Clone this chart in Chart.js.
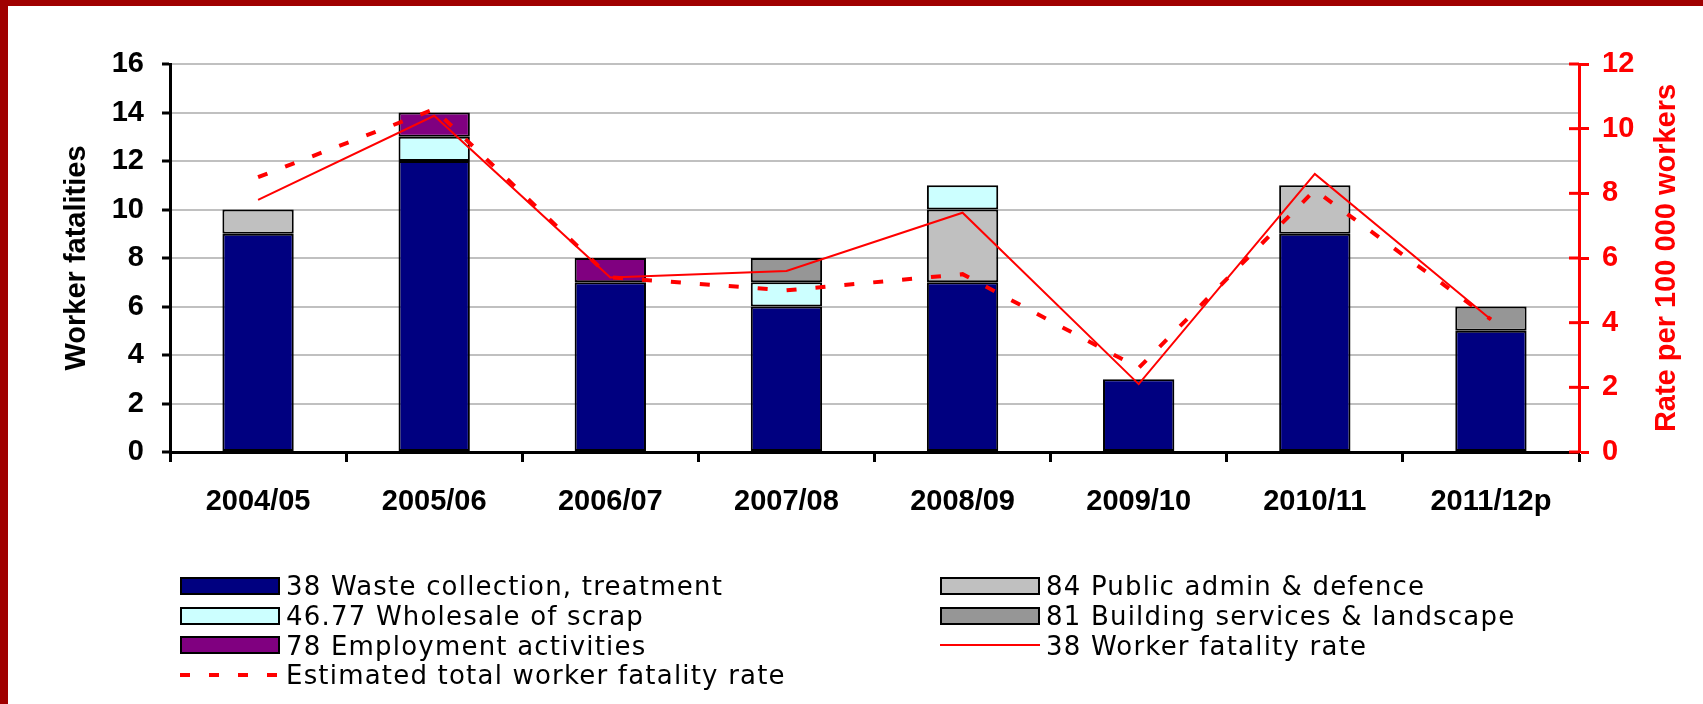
<!DOCTYPE html>
<html>
<head>
<meta charset="utf-8">
<script src="https://cdn.jsdelivr.net/npm/chart.js@4.4.0/dist/chart.umd.min.js"></script>
<style>
    html, body { margin: 0; padding: 0; background: #fff; }
    #wrap { position: relative; width: 1703px; height: 704px; overflow: hidden; background: #fff; }
    #chart { position: absolute; left: 0; top: 0; }
    #frame {
        position: absolute; left: 0; top: 0; width: 1703px; height: 704px;
        box-sizing: border-box; border-left: 8px solid #A00000; border-top: 6px solid #A00000;
        pointer-events: none;
    }
    #legend {
        position: absolute; left: 180px; top: 571px;
        display: grid; grid-template-columns: 760px auto;
        font-family: "DejaVu Sans", sans-serif; font-size: 26px; letter-spacing: 1.2px; color: #000;
    }
    .item { display: flex; align-items: center; height: 29.8px; white-space: nowrap; }
    .sw { width: 100px; height: 18px; box-sizing: border-box; border: 2px solid #000; margin-right: 6px; flex: none; }
    .ln { width: 100px; height: 2px; background: #FF0000; margin-right: 6px; flex: none; }
    .ln.dash { height: 4px; background: repeating-linear-gradient(90deg, #FF0000 0 10px, transparent 10px 29px); }
</style>
</head>
<body>
<div id="wrap">
    <canvas id="chart" width="1703" height="704"></canvas>
    <div id="legend"></div>
    <div id="frame"></div>
</div>
<script>
// Financial years
const categories = ['2004/05', '2005/06', '2006/07', '2007/08', '2008/09', '2009/10', '2010/11', '2011/12p'];

// Worker fatalities by industry (stacked bars, left axis)
const wasteCollection = [9, 12, 7, 6, 7, 3, 9, 5];
const publicAdmin = [1, 0, 0, 0, 3, 0, 2, 0];
const wholesaleScrap = [0, 1, 0, 1, 1, 0, 0, 0];
const buildingServices = [0, 0, 0, 1, 0, 0, 0, 1];
const employmentActivities = [0, 1, 1, 0, 0, 0, 0, 0];

// Rates per 100 000 workers (lines, right axis)
const workerRate = [7.8, 10.4, 5.4, 5.6, 7.4, 2.1, 8.6, 4.1];
const estimatedRate = [8.5, 10.6, 5.4, 5.0, 5.5, 2.6, 8.1, 4.1];

// Axis ranges and titles
const leftMax = 16, leftStep = 2;
const rightMax = 12, rightStep = 2;
const leftTitle = 'Worker fatalities';
const rightTitle = 'Rate per 100 000 workers';

const AXIS_FONT = { family: '"Liberation Sans", Arial, sans-serif', size: 29, weight: 'bold' };

// zero segments are simply not drawn
const noZero = arr => arr.map(v => (v === 0 ? null : v));

function barSet(label, data, color) {
    return {
        type: 'bar',
        label: label,
        data: noZero(data),
        backgroundColor: color,
        borderColor: '#000',
        borderWidth: 2,
        borderSkipped: false,
        stack: 'fatalities',
        yAxisID: 'y',
        categoryPercentage: 1,
        barPercentage: 0.405,
        order: 2
    };
}

// Right axis: ticks crossing the line, and a bottom-to-top title
const rightAxisExtras = {
    id: 'rightAxisExtras',
    afterDraw(chart) {
        const s = chart.scales.y1;
        const ctx = chart.ctx;
        ctx.save();
        ctx.strokeStyle = '#FF0000';
        ctx.lineWidth = 3;
        s.ticks.forEach(t => {
            const y = s.getPixelForValue(t.value);
            ctx.beginPath();
            ctx.moveTo(s.left - 10, y);
            ctx.lineTo(s.left, y);
            ctx.stroke();
        });
        ctx.translate(s.right - 36, (s.top + s.bottom) / 2);
        ctx.rotate(-Math.PI / 2);
        ctx.font = `bold ${AXIS_FONT.size}px ${AXIS_FONT.family}`;
        ctx.fillStyle = '#FF0000';
        ctx.textAlign = 'center';
        ctx.textBaseline = 'middle';
        ctx.fillText(rightTitle, 0, 0);
        ctx.restore();
    }
};

const chart = new Chart(document.getElementById('chart'), {
    type: 'bar',
    data: {
        labels: categories,
        datasets: [
            barSet('38 Waste collection, treatment', wasteCollection, '#000080'),
            barSet('84 Public admin & defence', publicAdmin, '#C0C0C0'),
            barSet('46.77 Wholesale of scrap', wholesaleScrap, '#CCFFFF'),
            barSet('81 Building services & landscape', buildingServices, '#969696'),
            barSet('78 Employment activities', employmentActivities, '#800080'),
            {
                type: 'line',
                label: '38 Worker fatality rate',
                data: workerRate,
                borderColor: '#FF0000',
                borderWidth: 2,
                pointRadius: 0,
                tension: 0,
                fill: false,
                yAxisID: 'y1',
                order: 1
            },
            {
                type: 'line',
                label: 'Estimated total worker fatality rate',
                data: estimatedRate,
                borderColor: '#FF0000',
                borderWidth: 4,
                borderDash: [10, 19],
                pointRadius: 0,
                tension: 0,
                fill: false,
                yAxisID: 'y1',
                order: 1
            }
        ]
    },
    options: {
        responsive: false,
        animation: false,
        layout: { padding: { left: 8, top: 64, right: 0, bottom: 182 } },
        plugins: {
            legend: { display: false },
            tooltip: { enabled: false }
        },
        scales: {
            x: {
                stacked: true,
                offset: true,
                afterFit: s => { s.height = 70; },
                grid: {
                    offset: true,
                    drawOnChartArea: false,
                    color: '#000',
                    tickColor: '#000',
                    tickLength: 10,
                    tickWidth: 3
                },
                border: { color: '#000', width: 3 },
                ticks: { font: AXIS_FONT, color: '#000', padding: 23, maxRotation: 0 }
            },
            y: {
                stacked: true,
                min: 0,
                max: leftMax,
                afterFit: s => { s.width = 162; },
                ticks: { stepSize: leftStep, font: AXIS_FONT, color: '#000', padding: 18 },
                grid: { color: '#C0C0C0', lineWidth: 2, tickColor: '#000', tickLength: 8, tickWidth: 3 },
                border: { color: '#000', width: 3 },
                title: {
                    display: true,
                    text: leftTitle,
                    font: AXIS_FONT,
                    color: '#000',
                    padding: { top: 52, bottom: 0 }
                }
            },
            y1: {
                position: 'right',
                min: 0,
                max: rightMax,
                afterFit: s => { s.width = 124; },
                ticks: { stepSize: rightStep, font: AXIS_FONT, color: '#FF0000', padding: 13 },
                grid: { drawOnChartArea: false, color: '#FF0000', tickColor: '#FF0000', tickLength: 10, tickWidth: 3 },
                border: { color: '#FF0000', width: 3 }
            }
        }
    },
    plugins: [rightAxisExtras]
});

// Two-column legend built from the datasets, row by row
function buildLegend(ch) {
    const box = document.getElementById('legend');
    ch.data.datasets.forEach(ds => {
        const item = document.createElement('div');
        item.className = 'item';
        const sw = document.createElement('span');
        if (ds.type === 'line') {
            sw.className = ds.borderDash ? 'ln dash' : 'ln';
        } else {
            sw.className = 'sw';
            sw.style.background = ds.backgroundColor;
        }
        const txt = document.createElement('span');
        txt.textContent = ds.label;
        item.appendChild(sw);
        item.appendChild(txt);
        box.appendChild(item);
    });
}
buildLegend(chart);
</script>
</body>
</html>
